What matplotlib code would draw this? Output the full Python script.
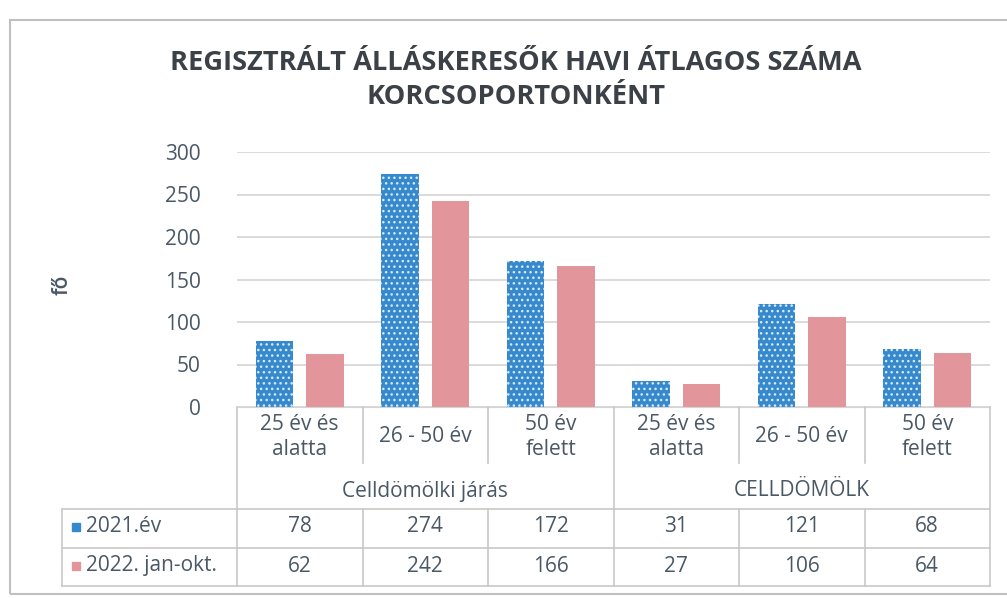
import matplotlib as mpl
import matplotlib.pyplot as plt
import matplotlib.transforms as mtransforms
from matplotlib import font_manager
import numpy as np

# Excel-style grouped bar chart with data table underneath

categories = ['25 év és\nalatta', '26 - 50 év', '50 év\nfelett',
              '25 év és\nalatta', '26 - 50 év', '50 év\nfelett']
groups = ['Celldömölki járás', 'CELLDÖMÖLK']
series_names = ['2021.év', '2022. jan-okt.']
values_2021 = [78, 274, 172, 31, 121, 68]
values_2022 = [62, 242, 166, 27, 106, 64]
yticks = [0, 50, 100, 150, 200, 250, 300]
ylabel = 'fő'
title = 'REGISZTRÁLT ÁLLÁSKERESŐK HAVI ÁTLAGOS SZÁMA\nKORCSOPORTONKÉNT'

names = {f.name for f in font_manager.fontManager.ttflist}
fam = 'Liberation Sans Narrow' if 'Liberation Sans Narrow' in names else 'Open Sans'
plt.rcParams['font.family'] = [fam, 'DejaVu Sans']

blue = '#3689cc'
pink = '#e2959a'
txt = '#4a5866'
grid = '#d4d4d4'

W, H = 1007, 598
fig = plt.figure(figsize=(W / 100, H / 100), dpi=100)

def fy(py):
    return 1 - py / H

left_px, right_px = 237, 990
ax = fig.add_axes([left_px / W, fy(407), (right_px - left_px) / W, fy(152) - fy(407)])

x = np.arange(len(categories))
bw = 0.3
off = 0.2
ax.bar(x - off, values_2021, bw, color=blue, linewidth=0, zorder=2)
ax.bar(x - off, values_2021, bw, facecolor='none', edgecolor='#d8eaf8',
       hatch='...', linewidth=0, zorder=3)
ax.bar(x + off, values_2022, bw, color=pink, linewidth=0, zorder=2)

ax.set_xlim(-0.5, len(categories) - 0.5)
ax.set_ylim(0, 300)
ax.set_yticks(yticks)
ax.set_xticks([])
ax.yaxis.grid(True, color=grid, linewidth=1.2, zorder=0)
ax.tick_params(axis='y', length=0, pad=26, labelsize=15, labelcolor=txt)
for s in ['top', 'right', 'left']:
    ax.spines[s].set_visible(False)
ax.spines['bottom'].set_color(grid)

fig.text(62 / W, fy(285), ylabel, rotation=90, ha='center', va='center',
         fontsize=15, color=txt, fontweight='semibold')
fig.text(516 / W, fy(80), title, ha='center', va='center', fontsize=19.6,
         fontweight='bold', color='#3b4147', linespacing=1.45)

# data table below the axis
tr = mtransforms.blended_transform_factory(ax.transData, fig.transFigure)
lc = dict(color='#c8c8c8', linewidth=1.2, transform=tr, clip_on=False)
cw = 1.0 / ((right_px - left_px) / len(categories))
x_leg = -0.5 - (left_px - 62) * cw
y_top, y_mid, y_row, y_bot, y_grp = fy(407), fy(509), fy(548), fy(586), fy(463)

for b in np.arange(-0.5, len(categories), 1.0):
    if b in (-0.5, 2.5, len(categories) - 0.5):
        fig.add_artist(plt.Line2D([b, b], [y_top, y_bot], **lc))
    else:
        fig.add_artist(plt.Line2D([b, b], [y_top, y_grp], **lc))
        fig.add_artist(plt.Line2D([b, b], [y_mid, y_bot], **lc))
for yy in (y_mid, y_row, y_bot):
    fig.add_artist(plt.Line2D([x_leg, len(categories) - 0.5], [yy, yy], **lc))
fig.add_artist(plt.Line2D([x_leg, x_leg], [y_mid, y_bot], **lc))

for i, c in enumerate(categories):
    fig.text(i, fy(437), c, transform=tr, ha='center', va='center',
             fontsize=15, color=txt, linespacing=1.3)
    fig.text(i, fy(527), str(values_2021[i]), transform=tr, ha='center',
             va='center', fontsize=15, color=txt)
    fig.text(i, fy(566), str(values_2022[i]), transform=tr, ha='center',
             va='center', fontsize=15, color=txt)
for g, gx in zip(groups, [1, 4]):
    fig.text(gx, fy(491), g, transform=tr, ha='center', va='center',
             fontsize=15, color=txt)

for name, col, yy in zip(series_names, [blue, pink], [527, 566]):
    fig.add_artist(mpl.patches.Rectangle((72 / W, fy(yy) - 4 / H), 8 / W, 8 / H,
                                         transform=fig.transFigure, color=col))
    fig.text(86 / W, fy(yy), name, ha='left', va='center', fontsize=15, color=txt)

# outer chart frame
fig.add_artist(mpl.patches.Rectangle((10 / W, fy(594)), 1.2, fy(20) - fy(594),
                                     transform=fig.transFigure, fill=False,
                                     edgecolor='#c0c0c0', linewidth=1.5))

fig.savefig('out.png', dpi=100)
